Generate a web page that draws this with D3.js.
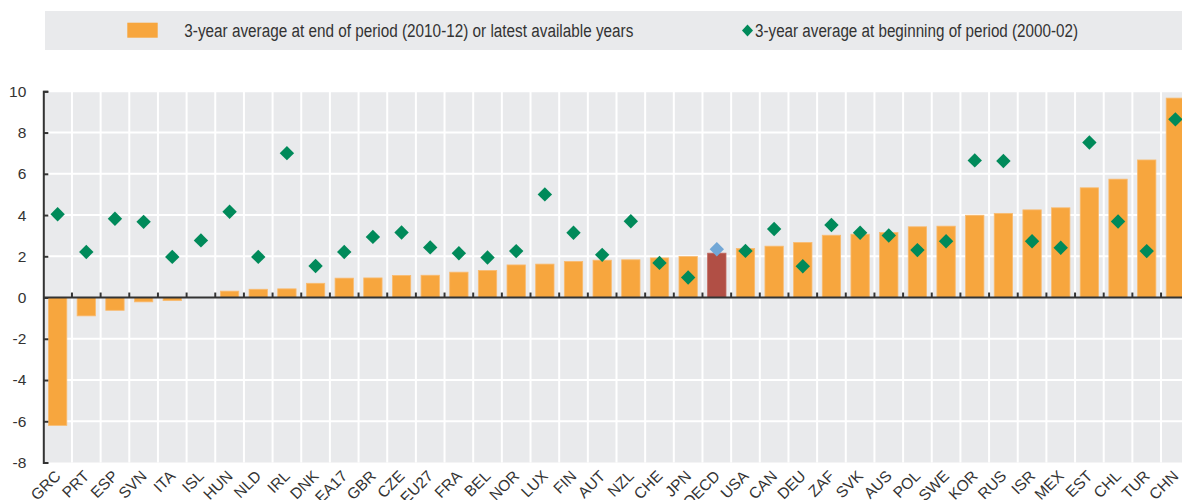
<!DOCTYPE html>
<html>
<head>
<meta charset="utf-8">
<script src="https://cdn.jsdelivr.net/npm/d3@7"></script>
<style>
  body { margin: 0; background: #fff; }
  svg text { font-family: "Liberation Sans", Arial, sans-serif; fill: #333; }
</style>
</head>
<body>
<svg id="chart"></svg>
<script>
// categories, end-of-period bars, beginning-of-period diamonds
const countries = ["GRC", "PRT", "ESP", "SVN", "ITA", "ISL", "HUN", "NLD", "IRL", "DNK",
  "EA17", "GBR", "CZE", "EU27", "FRA", "BEL", "NOR", "LUX", "FIN", "AUT",
  "NZL", "CHE", "JPN", "OECD", "USA", "CAN", "DEU", "ZAF", "SVK", "AUS",
  "POL", "SWE", "KOR", "RUS", "ISR", "MEX", "EST", "CHL", "TUR", "CHN"];
const endPeriod = [-6.2, -0.89, -0.62, -0.21, -0.15, 0, 0.31, 0.4, 0.42, 0.69,
  0.94, 0.95, 1.07, 1.08, 1.23, 1.31, 1.58, 1.62, 1.75, 1.81,
  1.83, 1.92, 1.99, 2.15, 2.38, 2.49, 2.67, 3.02, 3.07, 3.15,
  3.43, 3.46, 3.99, 4.08, 4.25, 4.35, 5.32, 5.74, 6.67, 9.67];
const beginPeriod = [4.04, 2.21, 3.82, 3.67, 1.97, 2.77, 4.16, 1.97, 7.0, 1.53,
  2.21, 2.94, 3.15, 2.43, 2.15, 1.94, 2.25, 5.0, 3.14, 2.07,
  3.7, 1.68, 0.97, 2.34, 2.26, 3.32, 1.52, 3.52, 3.14, 3.01,
  2.3, 2.73, 6.65, 6.62, 2.73, 2.41, 7.52, 3.69, 2.25, 8.64];
const yTicks = [-8, -6, -4, -2, 0, 2, 4, 6, 8, 10];
const legendLabels = ["3-year average at end of period (2010-12) or latest available years",
  "3-year average at beginning of period (2000-02)"];

const W = 1182, H = 500;
const margin = { top: 91.3, left: 43.3, bottom: 37.5 };
const plotRight = 1189.7;

const svg = d3.select("#chart").attr("width", W).attr("height", H);

const x = d3.scaleBand()
  .domain(countries)
  .range([margin.left, plotRight])
  .paddingInner(0.36)
  .paddingOuter(0.18);

const y = d3.scaleLinear()
  .domain([-8, 10])
  .range([H - margin.bottom, margin.top]);

const step = x.step();
const bandStart = c => x(c) - x.paddingInner() * step / 2;

// legend
svg.append("rect")
  .attr("x", 45).attr("y", 11).attr("width", W - 45).attr("height", 39)
  .attr("fill", "#e9eaec");
svg.append("rect")
  .attr("x", 127.3).attr("y", 22.7).attr("width", 30.4).attr("height", 15)
  .attr("fill", "#f7a63e");
svg.append("text")
  .attr("x", 184.3).attr("y", 36.7)
  .attr("font-size", 18)
  .attr("textLength", 449)
  .attr("lengthAdjust", "spacingAndGlyphs")
  .text(legendLabels[0]);
svg.append("path")
  .attr("d", "M0,-6L5.5,0L0,6L-5.5,0Z")
  .attr("transform", "translate(747.5,30.5)")
  .attr("fill", "#008a5a");
svg.append("text")
  .attr("x", 755).attr("y", 36.7)
  .attr("font-size", 18)
  .attr("textLength", 323)
  .attr("lengthAdjust", "spacingAndGlyphs")
  .text(legendLabels[1]);

// plot background
svg.append("rect")
  .attr("x", margin.left).attr("y", y(10))
  .attr("width", plotRight - margin.left).attr("height", y(-8) - y(10))
  .attr("fill", "#e9eaec");

// grid
svg.append("g")
  .selectAll("line")
  .data(yTicks.filter(d => d !== 0 && d !== -8))
  .join("line")
  .attr("x1", margin.left).attr("x2", plotRight)
  .attr("y1", d => y(d)).attr("y2", d => y(d))
  .attr("stroke", "#fff").attr("stroke-width", 2);

svg.append("g")
  .selectAll("line")
  .data(countries.slice(1))
  .join("line")
  .attr("x1", d => bandStart(d)).attr("x2", d => bandStart(d))
  .attr("y1", y(10)).attr("y2", y(-8))
  .attr("stroke", "#fff").attr("stroke-width", 2);

// bars
svg.append("g")
  .selectAll("rect")
  .data(countries)
  .join("rect")
  .attr("x", d => x(d))
  .attr("width", x.bandwidth())
  .attr("y", (d, i) => y(Math.max(0, endPeriod[i])))
  .attr("height", (d, i) => Math.abs(y(endPeriod[i]) - y(0)))
  .attr("fill", d => d === "OECD" ? "#b14f45" : "#f7a63e")
  .attr("stroke", d => d === "OECD" ? "#c0675d" : "#f9bb70")
  .attr("stroke-width", 0.8);

// y axis (plain hyphen for negatives, like the original)
const yAxis = d3.axisLeft(y)
  .tickValues(yTicks)
  .tickFormat(d => String(d))
  .tickSize(-5)
  .tickPadding(17);

const yg = svg.append("g")
  .attr("transform", `translate(${margin.left},0)`)
  .call(yAxis);
yg.select(".domain").attr("stroke", "#333").attr("stroke-width", 2);
yg.selectAll(".tick line").attr("stroke", "#333").attr("stroke-width", 2);
yg.selectAll(".tick text")
  .attr("font-size", 15.5)
  .attr("font-family", "Liberation Sans, Arial, sans-serif")
  .attr("fill", "#333");

// zero line with category ticks
svg.append("line")
  .attr("x1", margin.left).attr("x2", plotRight)
  .attr("y1", y(0)).attr("y2", y(0))
  .attr("stroke", "#333").attr("stroke-width", 2);

svg.append("g")
  .selectAll("line")
  .data(countries.slice(1))
  .join("line")
  .attr("x1", d => bandStart(d)).attr("x2", d => bandStart(d))
  .attr("y1", y(0)).attr("y2", y(0) - 5)
  .attr("stroke", "#333").attr("stroke-width", 2);

// diamonds
svg.append("g")
  .selectAll("path")
  .data(countries)
  .join("path")
  .attr("d", "M0,-7.2L7.2,0L0,7.2L-7.2,0Z")
  .attr("transform", (d, i) => `translate(${x(d) + x.bandwidth() / 2},${y(beginPeriod[i])})`)
  .attr("fill", d => d === "OECD" ? "#72a7d6" : "#008a5a");

// category labels
svg.append("g")
  .selectAll("text")
  .data(countries)
  .join("text")
  .attr("text-anchor", "end")
  .attr("font-size", 15.5)
  .attr("transform", d => `translate(${x(d) + x.bandwidth() / 2 + 4},${H - 23}) rotate(-45)`)
  .text(d => d);
</script>
</body>
</html>
